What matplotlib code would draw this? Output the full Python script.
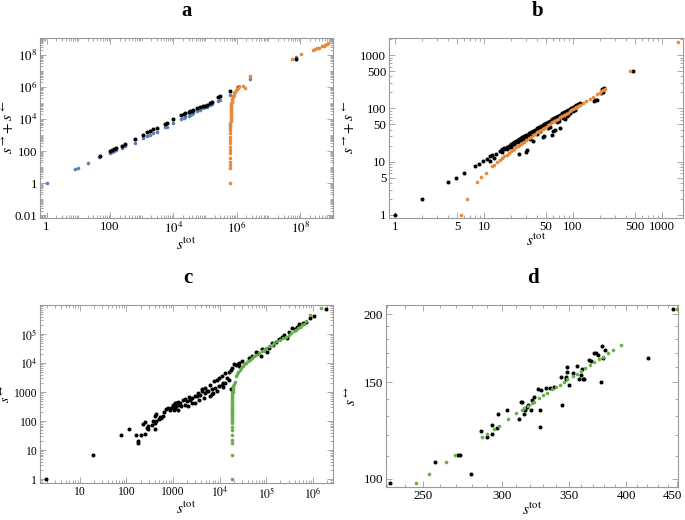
#四个子图的散点图 (a-d)

import numpy as np
import matplotlib.pyplot as plt
from matplotlib.ticker import NullFormatter
from matplotlib.transforms import ScaledTranslation

plt.rcParams['font.family'] = ['Liberation Serif', 'DejaVu Serif']
plt.rcParams['mathtext.fontset'] = 'stix'

#数据 (s_tot, s) 读图估计
a_black = [(48, 50), (100, 100), (115, 120), (130, 135), (150, 160), (234, 215), (295, 275), (620, 560),
           (1120, 1050), (1450, 1450), (1820, 1740), (2340, 2240), (2950, 2570), (5500, 4800), (6200, 5750),
           (10000, 9800), (18000, 17000), (21000, 19000), (23500, 22000), (30000, 27500), (34000, 30000),
           (38000, 33000), (42000, 37000), (55000, 45000), (69000, 56000), (89000, 62000), (100000, 68000),
           (112000, 79000), (144000, 100000), (162000, 115000), (260000, 220000), (300000, 260000),
           (620000, 550000), (1100000, 1000000), (75000000, 53000000)]
a_blue = [(1, 1), (7.8, 7.8), (10, 9.4), (19.6, 19), (45, 42), (100, 72), (115, 85), (130, 95), (150, 115),
          (240, 160), (300, 200), (620, 330), (1120, 650), (1450, 840), (1820, 1000), (2340, 1300), (2950, 1500),
          (5500, 3100), (6200, 3400), (10000, 5300), (18000, 9500), (21000, 11000), (23500, 12500),
          (30000, 16000), (34000, 18000), (38000, 20000), (42000, 22000), (55000, 30000), (69000, 37000),
          (89000, 45000), (100000, 52000), (112000, 58000), (144000, 73000), (162000, 82000), (260000, 130000),
          (300000, 160000), (620000, 330000), (2600000, 3200000), (75000000, 68000000)]
a_orange = [(630000, 1), (630000, 8.5), (630000, 13), (630000, 22), (630000, 40), (630000, 72), (630000, 115),
            (630000, 185), (630000, 300), (630000, 480), (630000, 780), (630000, 1250), (630000, 2000),
            (631000, 2700), (632000, 3500), (632000, 4500), (633000, 5800), (634000, 7500), (635000, 9500),
            (636000, 12000), (637500, 15000), (639500, 19000), (642000, 24000), (645000, 30000),
            (648500, 37000), (652500, 45000), (657500, 55000), (664000, 68000), (671000, 82000),
            (680000, 100000), (690000, 120000), (705000, 150000), (720000, 180000), (740000, 220000),
            (765000, 270000), (795000, 330000), (830000, 400000), (880000, 500000), (940000, 620000),
            (1005000, 750000), (1075000, 890000), (1165000, 1070000), (1600000, 1100000), (1800000, 890000),
            (2600000, 4500000), (55000000, 51000000), (110000000, 105000000), (260000000, 210000000),
            (300000000, 230000000), (340000000, 260000000), (380000000, 280000000), (480000000, 340000000),
            (550000000, 370000000), (620000000, 420000000), (690000000, 480000000), (780000000, 550000000)]

b_black = [(1, 1), (2, 2), (4, 4.1), (4.9, 5), (6, 6), (7.9, 8.2), (8.9, 9.1), (9.8, 10.2), (10.9, 11.4),
           (11.7, 12.6), (12.5, 13.1), (13.1, 11.5), (11.7, 10.2), (13.6, 13.7),
           (15, 16), (16, 17), (17, 18), (18, 19), (19, 20), (20, 21), (21, 22.3), (22, 23.3), (23, 24.4),
           (24, 25.4), (25, 26.5), (26, 27.6), (27, 28.6), (28, 29.7), (29, 30.7), (30, 31.8), (32, 34),
           (34, 36), (36, 38), (38, 40), (40, 42.4), (42, 44.5), (44, 46.6), (46, 48.8), (48, 51), (50, 53),
           (53, 56), (56, 59), (59, 62.5), (62, 65.7), (65, 69), (68, 72), (72, 76), (76, 80.5), (80, 85),
           (84, 89), (88, 93), (92, 97.5), (96, 102), (100, 106), (105, 111), (110, 116), (115, 122), (120, 127),
           (17, 17.2), (19, 19.2), (21, 21.2), (23, 23.2), (25, 25.3), (27, 27.3), (29, 29.3), (31, 31.3),
           (34, 34.3), (37, 37.4), (41, 41.4), (45, 45.5), (49, 49.5), (54, 54.5), (58, 58.6), (63, 63.6),
           (67, 67.7), (73, 73.7), (78, 78.8), (83, 83.8), (90, 91), (95, 96),
           (16, 15.4), (18, 17.3), (20, 19.2), (22, 21), (24, 23), (26, 25), (28, 27), (30, 28.8), (33, 31.7),
           (36, 34.6), (39, 37.4), (42, 40.3), (45, 43), (48, 46), (52, 50), (56, 53.8), (60, 57.6), (65, 62.4),
           (70, 67), (75, 72), (80, 77), (86, 82.6), (92, 88.3), (98, 94), (104, 100), (110, 105.6),
           (25, 14), (29.7, 15.4), (30.7, 16.3), (36, 24), (46, 29), (47, 30), (60, 38), (63, 40), (58, 32),
           (43, 37), (78, 66), (81, 64), (89, 76), (93, 82), (71, 43), (33, 27), (40, 33), (52, 42), (55, 45),
           (66, 55), (70, 58), (85, 72), (100, 88), (105, 92),
           (173, 139), (177, 141), (185, 145), (210, 193), (215, 229), (220, 207), (225, 239), (476, 504)]
b_orange = [(5.5, 1), (6.5, 2), (8.4, 4.1), (9.4, 5.2), (10.5, 6.1), (12.2, 8.3), (13, 8.8), (14, 9.7),
            (15, 10.7), (16, 11.6), (17, 12.6), (18, 13.6), (19, 14.6), (20, 15.6), (21, 16.6), (22, 17.6),
            (23, 18.6), (24, 19.6), (25, 20.6), (26, 21.6), (27, 22.6), (28, 23.6), (30, 25.6), (32, 27.6),
            (34, 29.6), (36, 31.6), (38, 33.6), (40, 35.6), (42, 37.6), (44, 39.6), (46, 41.6), (48, 43.6),
            (50, 45.6), (53, 48.6), (56, 51.6), (59, 54.6), (62, 57.6), (65, 60.6), (68, 63.6), (72, 67.6),
            (76, 71.6), (80, 75.6), (84, 79.6), (88, 83.6), (92, 87.6), (96, 91.6), (100, 95.6), (105, 100.6),
            (110, 105.6), (115, 110.6), (120, 115.6), (130, 126), (140, 136), (155, 150), (170, 167),
            (185, 183), (200, 198), (210, 208), (220, 220), (228, 230), (437, 500), (1520, 1780)]

c_black = [(1.9, 1), (19, 7), (76, 33), (115, 52), (160, 33), (200, 34), (175, 18), (180, 20), (245, 35),
           (245, 93), (275, 59), (295, 55), (224, 77), (288, 67), (350, 71), (370, 100), (400, 88), (400, 155),
           (440, 170), (400, 52), (435, 100), (510, 115), (560, 130), (600, 150), (520, 140), (650, 200),
           (700, 260), (780, 290), (850, 250), (900, 280), (1000, 355), (1050, 250), (1100, 405), (1100, 290),
           (1180, 425), (1200, 380), (1290, 355), (1290, 250), (1380, 405), (1450, 330), (1000, 300),
           (1150, 330), (1250, 450), (1650, 525), (1790, 590), (1950, 485), (2300, 550), (2500, 425),
           (2100, 325), (1790, 370), (2600, 620), (2200, 700), (2950, 720), (3470, 940), (3800, 820),
           (4100, 1070), (3200, 720), (3500, 550), (2950, 425), (4500, 630), (4900, 940), (5700, 1070),
           (6200, 720), (6800, 1230), (8000, 1380), (8700, 1070), (9400, 1660), (11000, 1820), (12000, 1510),
           (13000, 2050), (15500, 2700), (17000, 1230), (7300, 940), (4100, 1230), (4900, 1380), (5300, 1070),
           (6200, 1820), (6800, 890), (7400, 2340), (8700, 2700), (9400, 3090), (11200, 3500), (12000, 2050),
           (13200, 4570), (14200, 3090), (17000, 5900), (18300, 6800), (21800, 8700), (25500, 10000),
           (26300, 7700), (30000, 11400), (15500, 5100), (20000, 9500), (24000, 9000),
           (50000, 17800), (59000, 25000), (67000, 22000), (75000, 17000), (89000, 29000), (105000, 25000),
           (114000, 33000), (140000, 43000), (160000, 55000), (190000, 66000), (270000, 72000),
           (240000, 93000), (310000, 120000), (360000, 160000), (450000, 180000), (510000, 220000),
           (710000, 270000), (840000, 350000), (1070000, 420000), (1900000, 710000), (42000, 15000),
           (80000, 30000), (130000, 50000), (220000, 80000), (400000, 150000), (600000, 250000)]
c_green = [(18300, 1), (18300, 6.8), (18300, 17), (18300, 22), (18300, 32), (18300, 48), (18300, 62),
           (18300, 88), (18300, 100), (18300, 112), (18300, 125), (18300, 140), (18300, 158), (18300, 178),
           (18400, 200), (18400, 225), (18400, 255), (18400, 290), (18400, 330), (18400, 375), (18400, 425),
           (18400, 480), (18500, 545), (18600, 620), (18600, 700), (18600, 790), (18700, 900), (18800, 1020),
           (19000, 1150), (19100, 1300), (19300, 1480), (19500, 1680), (20000, 1900), (20700, 2150),
           (21800, 3500), (23000, 4200), (24500, 5000), (26500, 5900), (28500, 6900), (31000, 8000),
           (33500, 9000), (35700, 10000), (40000, 11500), (44000, 13000), (49000, 15000), (54000, 17000),
           (61000, 19500), (70000, 22500), (79000, 25500), (89000, 29000), (100000, 33000), (115000, 38000),
           (130000, 43000), (147000, 49000), (170000, 56000), (200000, 64000), (230000, 73000),
           (263000, 82000), (300000, 95000), (340000, 110000), (385000, 125000), (434000, 140000),
           (480000, 160000), (530000, 180000), (580000, 205000), (630000, 230000), (690000, 280000),
           (840000, 450000), (1500000, 770000)]

d_black = [(231.8, 98.2), (256.9, 107.3), (271.2, 110.4), (272.1, 110.4), (279.1, 102.1), (285.6, 122.3),
           (289.6, 119.2), (293.4, 125.4), (293.4, 120.6), (296.5, 123.5), (297.5, 131.5), (303.8, 133.4),
           (312.2, 128.3), (313.4, 138.2), (314.6, 138.2), (315.8, 131.5), (316.4, 133.4), (318.2, 135.3),
           (319.0, 136.6), (320.8, 133.4), (321.5, 139.0), (323.2, 140.8), (326.4, 145.8), (327.6, 133.4),
           (327.6, 124.3), (328.2, 145.0), (332.0, 146.7), (335.0, 146.2), (338.5, 147.2), (344.3, 153.5),
           (345.1, 136.6), (347.8, 153.1), (348.3, 152.4), (348.6, 159.7), (348.6, 156.8), (350.4, 148.3),
           (353.2, 155.7), (356.5, 160.7), (358.2, 152.4), (360.1, 154.5), (361.5, 152.4), (361.0, 158.4),
           (362.9, 152.4), (367.2, 165.1), (368.6, 164.4), (371.4, 169.4), (372.9, 169.4), (374.3, 168.2),
           (377.3, 150.3), (377.9, 174.8), (379.3, 166.5), (381.1, 171.8), (420.4, 165.9), (445.3, 203.9)]
d_green = [(245.7, 98.2), (253.4, 102.1), (263.8, 107.3), (269.1, 110.4), (286.7, 119.2), (289.6, 120.6),
           (294.5, 123.2), (297.9, 125.0), (304.5, 128.5), (310.2, 131.6), (314.1, 133.6), (315.8, 134.5),
           (318.3, 135.7), (321.4, 137.4), (323.2, 138.3), (326.9, 140.3), (329.9, 141.9), (333.3, 143.6),
           (337.2, 145.6), (339.9, 147.0), (343.0, 148.6), (346.5, 150.4), (349.1, 151.8), (353.2, 153.9),
           (356.5, 155.6), (360.1, 157.5), (363.8, 159.4), (367.7, 161.4), (371.4, 163.3), (375.2, 165.3),
           (378.7, 167.1), (383.1, 169.4), (387.6, 171.8), (395.2, 175.7), (449.8, 203.9)]

#颜色
BLUE = '#5e81b5'
ORANGE = '#e8893b'
GREEN = '#66b04a'
FRAME = '#9a9a9a'

def pts(ax, data, color, ms=2.6, z=2):
    xy = np.array(data, dtype=float)
    ax.plot(xy[:, 0], xy[:, 1], 'o', color=color, ms=ms, mew=0, zorder=z)

def log_minor(lo, hi):
    out = []
    for k in range(lo, hi):
        out += [m * 10.0 ** k for m in range(1, 10)]
    return out

def style(ax, xt, xl, yt, yl, xmin, ymin, ylab, xlim, ylim, ylx, fs=9.3, yfs=11):
    ax.set_xticks(xt, xl)
    ax.set_yticks(yt, yl)
    ax.set_xticks(xmin, minor=True)
    ax.set_yticks(ymin, minor=True)
    ax.xaxis.set_minor_formatter(NullFormatter())
    ax.yaxis.set_minor_formatter(NullFormatter())
    # set_ticks 会扩大范围, 所以最后再设范围
    ax.set_xlim(*xlim)
    ax.set_ylim(*ylim)
    ax.tick_params(which='both', direction='in', top=True, right=True, color=FRAME,
                   labelsize=fs, pad=2, width=0.6)
    ax.tick_params(which='major', length=4)
    ax.tick_params(which='minor', length=2)
    for s in ax.spines.values():
        s.set_color(FRAME)
        s.set_linewidth(0.8)
    ax.set_xlabel(r'$s^{\mathrm{tot}}$', fontsize=11, labelpad=0)
    ax.set_ylabel(ylab, fontsize=yfs)
    ax.yaxis.set_label_coords(ylx, 0.5)

fig = plt.figure(figsize=(6.85, 5.2), dpi=100)
ax_a = fig.add_axes([0.0584, 0.581, 0.428, 0.346])
ax_b = fig.add_axes([0.568, 0.581, 0.429, 0.346])
ax_c = fig.add_axes([0.0584, 0.0712, 0.428, 0.342])
ax_d = fig.add_axes([0.5635, 0.0635, 0.426, 0.350])

for ax in (ax_a, ax_b, ax_c, ax_d):
    ax.set_xscale('log')
    ax.set_yscale('log')

#a
pts(ax_a, a_blue, BLUE)
pts(ax_a, a_black, 'black', ms=2.9)
pts(ax_a, a_orange, ORANGE, z=3)
style(ax_a, [1, 100, 1e4, 1e6, 1e8], ['1', '100', '$10^4$', '$10^6$', '$10^8$'],
      [0.01, 1, 100, 1e4, 1e6, 1e8], ['0.01', '1', '100', '$10^4$', '$10^6$', '$10^8$'],
      log_minor(-1, 10), log_minor(-3, 10), r'$s^{\rightarrow}\!+s^{\leftarrow}$',
      (0.62, 1.1e9), (0.007, 1.1e9), -0.082)

#b
pts(ax_b, b_black, 'black', ms=2.9)
pts(ax_b, b_orange, ORANGE, z=3)
bt = [1, 5, 10, 50, 100, 500, 1000]
style(ax_b, bt, [str(v) for v in bt], bt, [str(v) for v in bt],
      log_minor(0, 4), log_minor(0, 4), r'$s^{\rightarrow}\!+s^{\leftarrow}$',
      (0.86, 1730), (0.88, 2100), -0.11)

#c
pts(ax_c, c_black, 'black', ms=2.9)
pts(ax_c, c_green, GREEN, z=3)
style(ax_c, [10, 100, 1000, 1e4, 1e5, 1e6], ['10', '100', '1000', '$10^4$', '$10^5$', '$10^6$'],
      [1, 10, 100, 1000, 1e4, 1e5], ['1', '10', '100', '1000', '$10^4$', '$10^5$'],
      log_minor(0, 7), log_minor(-1, 6), r'$s^{\leftrightarrow}$',
      (1.4, 2.7e6), (0.73, 1.0e6), -0.093, fs=8.4, yfs=10)

#d
pts(ax_d, d_black, 'black', ms=2.9)
pts(ax_d, d_green, GREEN, z=3)
style(ax_d, [250, 300, 350, 400, 450], ['250', '300', '350', '400', '450'],
      [100, 150, 200], ['100', '150', '200'],
      list(range(230, 451, 10)), list(range(100, 208, 10)), r'$s^{\leftrightarrow}$',
      (229.5, 450.5), (96.5, 207.8), -0.092)

#子图标号
for x, y, t in [(0.273, 0.969, 'a'), (0.785, 0.969, 'b'), (0.274, 0.456, 'c'), (0.778, 0.456, 'd')]:
    fig.text(x, y, t, ha='center', va='baseline', fontsize=15, fontweight='bold')

#最后一个刻度标签稍向左移, 免得出界
fig.canvas.draw()
lab = ax_d.xaxis.get_major_ticks()[-1].label1
lab.set_transform(lab.get_transform() + ScaledTranslation(-0.05, 0, fig.dpi_scale_trans))

plt.savefig('out.png', dpi=100)
